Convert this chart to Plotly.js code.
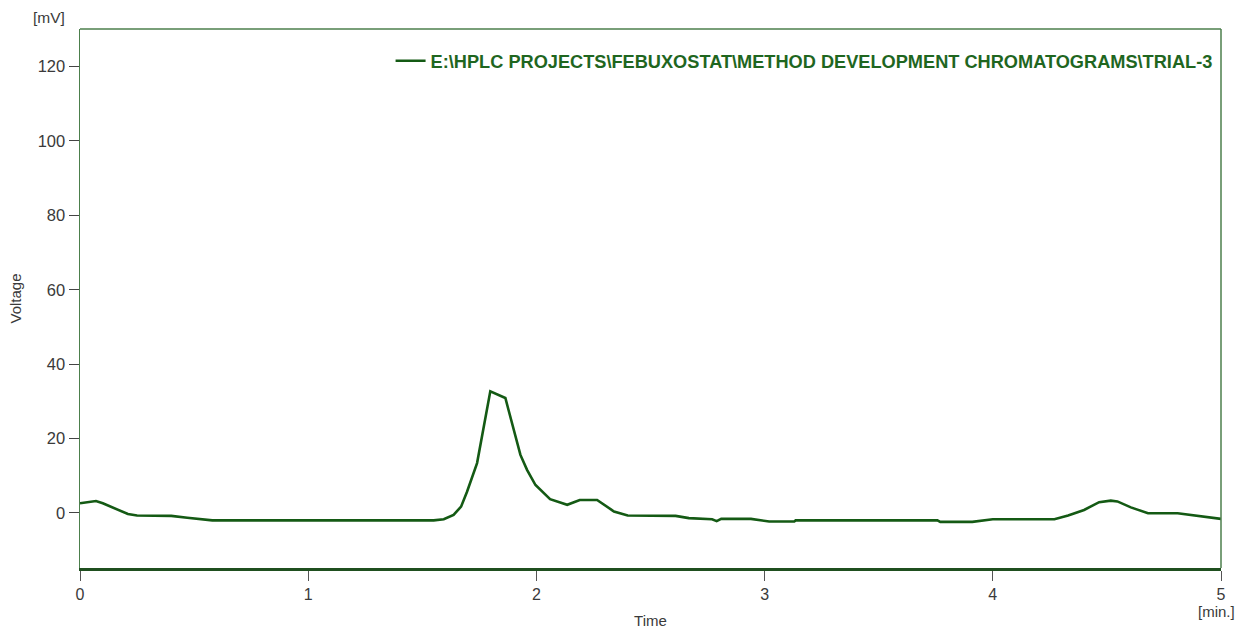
<!DOCTYPE html>
<html>
<head>
<meta charset="utf-8">
<script src="https://cdn.plot.ly/plotly-3.0.1.min.js"></script>
<style>
  html, body { margin: 0; padding: 0; background: #ffffff; }
  #chart { width: 1242px; height: 632px; }
</style>
</head>
<body>
<div id="chart"></div>
<script>
// Chromatogram trace: retention time (min) and detector voltage (mV)
const timeMin = [
  0.00, 0.03, 0.07, 0.10, 0.15, 0.21, 0.25, 0.40, 0.47, 0.58,
  1.55, 1.594, 1.637, 1.67, 1.696, 1.725, 1.74, 1.798, 1.864, 1.93,
  1.959, 1.996, 2.06, 2.135, 2.19, 2.266, 2.34, 2.40, 2.61, 2.668,
  2.77, 2.79, 2.81, 2.94, 3.02, 3.13, 3.136, 3.757, 3.77, 3.91,
  4.00, 4.27, 4.33, 4.40, 4.466, 4.517, 4.546, 4.605, 4.68, 4.81,
  4.91, 5.00
];
const voltage = [
  2.6, 2.9, 3.2, 2.6, 1.2, -0.3, -0.7, -0.8, -1.3, -2.0,
  -2.0, -1.7, -0.5, 1.7, 5.7, 10.7, 13.4, 32.7, 30.9, 15.6,
  11.6, 7.5, 3.7, 2.2, 3.5, 3.5, 0.4, -0.7, -0.8, -1.4,
  -1.7, -2.2, -1.6, -1.6, -2.3, -2.3, -2.0, -2.0, -2.4, -2.4,
  -1.7, -1.7, -0.7, 0.8, 2.9, 3.3, 3.1, 1.5, -0.1, -0.1,
  -0.8, -1.6
];
const traceName = 'E:\\HPLC PROJECTS\\FEBUXOSTAT\\METHOD DEVELOPMENT CHROMATOGRAMS\\TRIAL-3';
const yTicks = [0, 20, 40, 60, 80, 100, 120];
const xTicks = [0, 1, 2, 3, 4, 5];

const lineGreen = '#145a14';
const frameGreen = '#4c7f4c';
const font = 'Liberation Sans, Arial, sans-serif';
const labelGrey = '#3a3a3a';

const data = [{
  type: 'scatter',
  mode: 'lines',
  x: timeMin,
  y: voltage,
  name: traceName,
  line: { color: lineGreen, width: 2.6 }
}];

const layout = {
  width: 1242,
  height: 632,
  margin: { l: 80, r: 21, t: 29, b: 64 },
  paper_bgcolor: '#ffffff',
  plot_bgcolor: '#ffffff',
  font: { family: font, size: 14, color: labelGrey },
  showlegend: true,
  legend: {
    x: 0.997, xanchor: 'right', y: 0.975, yanchor: 'top',
    bgcolor: 'rgba(0,0,0,0)',
    font: { family: font, size: 18.2, color: '#1f661f', weight: 'bold' },
    itemwidth: 30
  },
  xaxis: {
    range: [0, 5],
    tickvals: xTicks,
    ticktext: xTicks.map(String),
    ticks: 'outside', ticklen: 10, tickcolor: '#555555', tickwidth: 1,
    showgrid: false, zeroline: false,
    showline: true, linecolor: '#1f4f1f', linewidth: 3,
    tickfont: { family: font, size: 16, color: labelGrey },
    title: { text: 'Time', standoff: 14, font: { family: font, size: 15, color: labelGrey } }
  },
  yaxis: {
    range: [-14.8, 130.1],
    tickvals: yTicks,
    ticktext: yTicks.map(String),
    ticks: 'outside', ticklen: 10, tickcolor: '#444444', tickwidth: 1,
    showgrid: false, zeroline: false,
    showline: true, linecolor: frameGreen, linewidth: 1.5,
    tickfont: { family: font, size: 16.5, color: labelGrey },
    title: { text: 'Voltage', standoff: 12, font: { family: font, size: 15, color: labelGrey } }
  },
  shapes: [
    // top and right edges of the plot frame
    { type: 'line', xref: 'paper', yref: 'paper', x0: 0, x1: 1, y0: 1, y1: 1,
      line: { color: frameGreen, width: 1.5 } },
    { type: 'line', xref: 'paper', yref: 'paper', x0: 1, x1: 1, y0: 0, y1: 1,
      line: { color: frameGreen, width: 1.5 } }
  ],
  annotations: [
    { text: '[mV]', xref: 'paper', yref: 'paper', x: 0, y: 1, xanchor: 'right', yanchor: 'bottom',
      xshift: -13, yshift: 1, showarrow: false, font: { family: font, size: 15.5, color: labelGrey } },
    { text: '[min.]', xref: 'paper', yref: 'paper', x: 1, y: 0, xanchor: 'left', yanchor: 'top',
      xshift: -25, yshift: -33, showarrow: false, font: { family: font, size: 15, color: labelGrey } }
  ]
};

Plotly.newPlot('chart', data, layout, { staticPlot: true, displayModeBar: false });
</script>
</body>
</html>
